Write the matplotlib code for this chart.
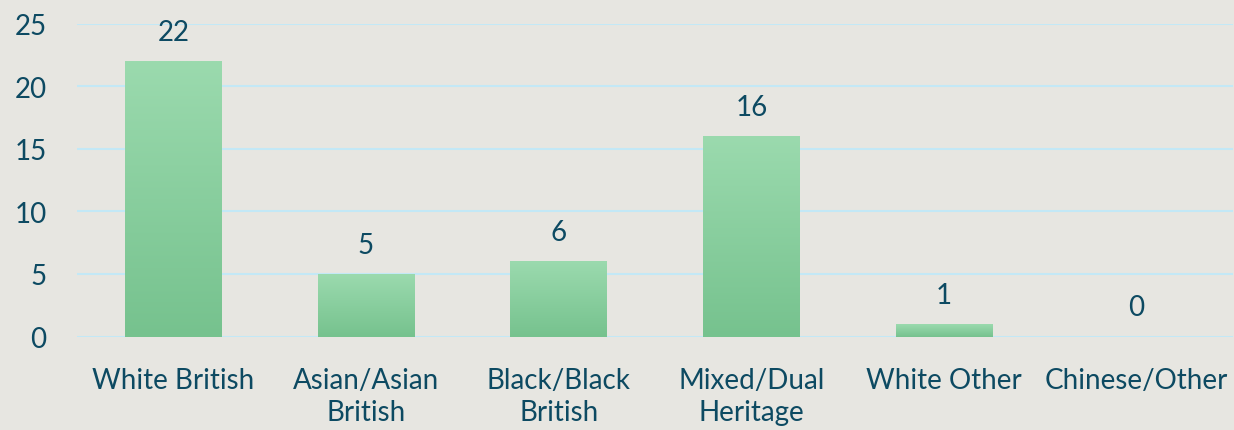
import matplotlib
matplotlib.use("Agg")
import matplotlib.pyplot as plt
import numpy as np
from matplotlib.colors import LinearSegmentedColormap

categories = ["White British", "Asian/Asian\nBritish", "Black/Black\nBritish",
              "Mixed/Dual\nHeritage", "White Other", "Chinese/Other"]
values = [22, 5, 6, 16, 1, 0]
yticks = [0, 5, 10, 15, 20, 25]

bg = "#E7E6E1"
text_c = "#0D4A62"
grid_c = "#C3E8F6"
top_c = "#9BDAAE"
bot_c = "#76C28E"

plt.rcParams['font.family'] = ['Lato', 'DejaVu Sans']

fig = plt.figure(figsize=(12.34, 4.31), dpi=100, facecolor=bg)
ax = fig.add_axes([77/1234, 1 - 337.5/431, (1233-77)/1234, 313/431])
ax.set_facecolor(bg)

x = np.arange(len(categories))
bars = ax.bar(x, values, width=0.5, color=bot_c, zorder=3)

cmap = LinearSegmentedColormap.from_list("g", [bot_c, top_c])
grad = np.linspace(0, 1, 256).reshape(-1, 1)
for b in bars:
    h = b.get_height()
    if h <= 0:
        continue
    x0 = b.get_x(); w = b.get_width()
    im = ax.imshow(grad, cmap=cmap, origin="lower", aspect="auto",
                   extent=[x0, x0 + w, 0, h], zorder=4)
    im.set_clip_path(b)

for xi, v in zip(x, values):
    ax.annotate(str(v), (xi, v), xytext=(0, 21), textcoords="offset points",
                ha="center", va="center", fontsize=20, color=text_c)

ax.set_xlim(-0.5, len(categories) - 0.5)
ax.set_ylim(0, 25)
ax.set_yticks(yticks)
ax.set_xticks(x)
ax.set_xticklabels(categories, fontsize=20, color=text_c, linespacing=1.3)
ax.tick_params(axis="y", labelsize=20, labelcolor=text_c, length=0, pad=22)
ax.tick_params(axis="x", length=0, pad=22)
ax.grid(axis="y", color=grid_c, linewidth=1.5, zorder=0)
for s in ax.spines.values():
    s.set_visible(False)
ax.set_axisbelow(True)

fig.savefig("out.png", dpi=100, facecolor=bg)
